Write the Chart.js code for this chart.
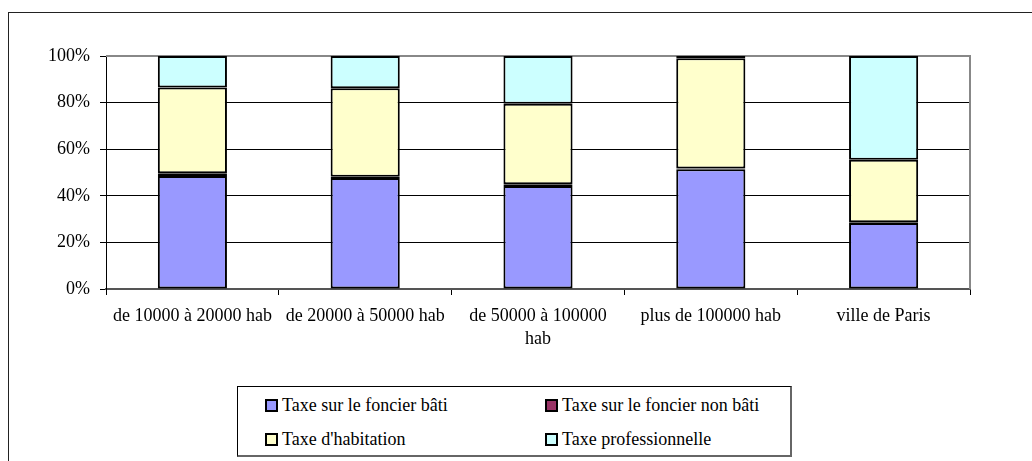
<!DOCTYPE html>
<html>
<head>
<meta charset="utf-8">
<script src="https://cdn.jsdelivr.net/npm/chart.js@4/dist/chart.umd.min.js"></script>
<style>
  html, body { margin: 0; padding: 0; background: #fff; overflow: hidden; }
  #wrap { position: relative; width: 1032px; height: 461px; }
  #frame { position: absolute; left: 8px; top: 12px; width: 1100px; height: 500px; border: 1px solid #222; }
  #box { position: absolute; left: 0; top: 0; width: 1032px; height: 461px; }
  #legend {
    position: absolute; left: 237px; top: 386px; width: 552px; height: 68px;
    border: 1px solid #000; border-right: 2px solid #666; border-bottom: 2px solid #666;
    background: #fff; font-family: "Liberation Serif", Tinos, "Times New Roman", "DejaVu Serif", "Noto Serif", serif;
    font-size: 18px; color: #000;
  }
  .item { position: absolute; display: flex; align-items: center; white-space: nowrap; }
  .sw { width: 9px; height: 9px; border: 2px solid #000; margin-right: 4px; }
</style>
</head>
<body>
<div id="wrap">
  <div id="frame"></div>
  <div id="box"><canvas id="myChart"></canvas></div>
  <div id="legend"></div>
</div>
<script>
const categories = [
	"de 10000 à 20000 hab",
	"de 20000 à 50000 hab",
	["de 50000 à 100000", "hab"],
	"plus de 100000 hab",
	"ville de Paris",
];
const foncierBati = [48.5, 47.6, 44.2, 51.4, 28.3];
const foncierNonBati = [1.2, 0.6, 0.8, 0.3, 0.3];
const habitation = [36.8, 38.0, 34.5, 47.3, 26.9];
const professionnelle = [13.5, 13.8, 20.5, 1.0, 44.5];
const yTicks = [0, 20, 40, 60, 80, 100];

const seriesNames = [
	"Taxe sur le foncier bâti",
	"Taxe sur le foncier non bâti",
	"Taxe d'habitation",
	"Taxe professionnelle",
];
const seriesColors = ["#9999FF", "#993366", "#FFFFCC", "#CCFFFF"];
const seriesData = [foncierBati, foncierNonBati, habitation, professionnelle];

const serif = "'Liberation Serif', Tinos, 'Times New Roman', 'DejaVu Serif', 'Noto Serif', serif";

// right and top edge of the plot area, grey like the original
const plotFrame = {
	id: "plotFrame",
	beforeDatasetsDraw(chart) {
		const a = chart.chartArea;
		const c = chart.ctx;
		c.save();
		c.strokeStyle = "#888";
		c.lineWidth = 2;
		c.beginPath();
		c.moveTo(a.left, a.top);
		c.lineTo(a.right, a.top);
		c.lineTo(a.right, a.bottom);
		c.stroke();
		c.restore();
	},
};

const ctx = document.getElementById("myChart");
const myChart = new Chart(ctx, {
	type: "bar",
	data: {
		labels: categories,
		datasets: seriesNames.map((name, i) => ({
			label: name,
			data: seriesData[i],
			backgroundColor: seriesColors[i],
			borderColor: "#000",
			borderWidth: 2,
			borderSkipped: false,
			barPercentage: 0.4,
			categoryPercentage: 1,
		})),
	},
	options: {
		responsive: true,
		maintainAspectRatio: false,
		animation: false,
		layout: {
			padding: { top: 56, right: 62, left: 0, bottom: 0 },
		},
		plugins: {
			legend: false,
			tooltip: { enabled: false },
		},
		scales: {
			x: {
				stacked: true,
				afterFit: (s) => { s.height = 461 - 289; },
				grid: {
					drawOnChartArea: false,
					tickLength: 6,
					color: "#000",
				},
				border: { color: "#555", width: 2 },
				ticks: {
					color: "#000",
					padding: 10,
					maxRotation: 0,
					autoSkip: false,
					font: { family: serif, size: 18, lineHeight: 1.28 },
				},
			},
			y: {
				stacked: true,
				min: 0,
				max: 100,
				afterFit: (s) => { s.width = 106; },
				afterBuildTicks: (s) => { s.ticks = yTicks.map((v) => ({ value: v })); },
				grid: {
					color: "#000",
					lineWidth: 1,
					tickLength: 6,
				},
				border: { color: "#000", width: 1 },
				ticks: {
					color: "#000",
					padding: 10,
					callback: (v) => v + "%",
					font: { family: serif, size: 18 },
				},
			},
		},
	},
	plugins: [plotFrame],
});

// boxed legend, two columns like the original
const legend = document.getElementById("legend");
const spots = [[27, 19], [307, 19], [27, 53], [307, 53]];
seriesNames.forEach((name, i) => {
	const it = document.createElement("div");
	it.className = "item";
	it.style.left = spots[i][0] + "px";
	it.style.top = (spots[i][1] - 11) + "px";
	it.innerHTML = '<span class="sw" style="background:' + seriesColors[i] + '"></span><span></span>';
	it.children[1].textContent = name;
	legend.appendChild(it);
});
</script>
</body>
</html>
